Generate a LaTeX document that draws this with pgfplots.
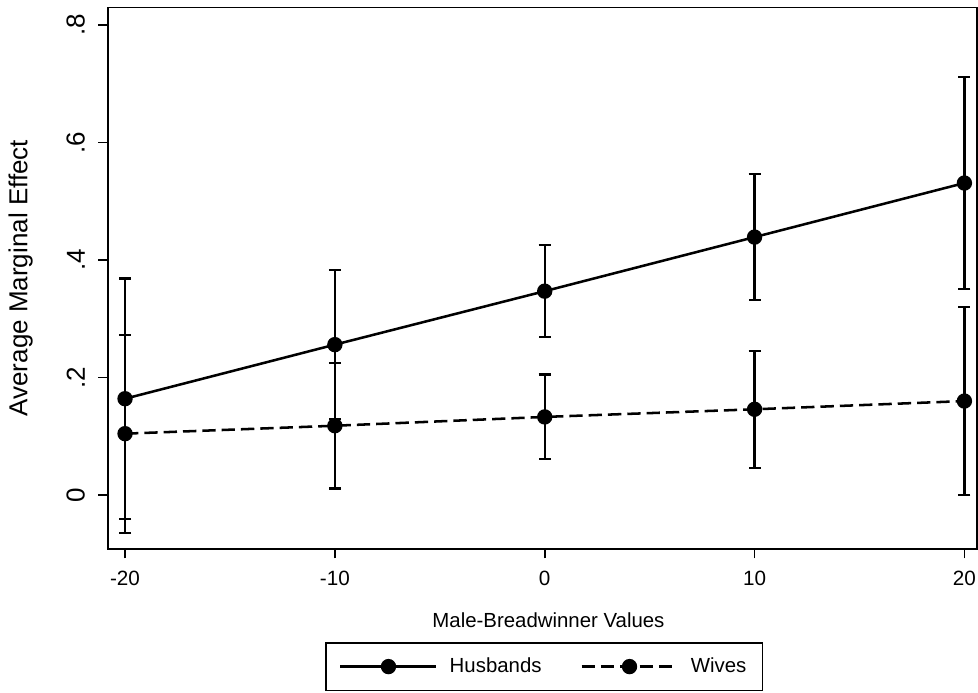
\documentclass[border=0pt]{standalone}
\usepackage{fontspec}
\setmainfont{Liberation Sans}
\usepackage{pgfplots}
\usepackage{pgfplotstable}
\pgfplotsset{compat=1.18}
\pgfplotstableread{
x y e
-20 0.164 0.2045
-10 0.256 0.127
0 0.347 0.078
10 0.439 0.1075
20 0.531 0.1805
}\husbands
\pgfplotstableread{
x y e
-20 0.1045 0.1685
-10 0.118 0.107
0 0.133 0.072
10 0.146 0.0995
20 0.160 0.160
}\wives
\begin{document}
\begin{tikzpicture}
\path[use as bounding box] (-80.8pt,-107.25pt) rectangle (652.75pt,411.8pt);
\begin{axis}[
  at={(0pt,0pt)}, anchor=south west,
  scale only axis, width=652pt, height=406.3pt,
  xmin=-20.825, xmax=20.6, ymin=-0.0918, ymax=0.830,
  axis line style={line width=1.2pt},
  tick style={line width=1.2pt, black},
  tick align=outside, major tick length=7pt,
  xtick pos=left, ytick pos=left,
  xtick={-20,-10,0,10,20}, xticklabels={-20,-10,0,10,20},
  ytick={0,0.2,0.4,0.6,0.8}, yticklabels={0,.2,.4,.6,.8},
  xticklabel shift=9pt, yticklabel shift=10pt,
  xticklabel style={font=\fontsize{15.5}{18}\selectfont, inner sep=0pt, anchor=north},
  yticklabel style={font=\fontsize{19.5}{23}\selectfont, rotate=90, anchor=south, inner sep=0pt},
  xlabel={Male-Breadwinner Values},
  xlabel style={font=\fontsize{15.3}{18}\selectfont, at={(axis description cs:0.507,0)}, anchor=north, inner sep=0pt, yshift=-47.25pt},
  ylabel={Average Marginal Effect},
  ylabel style={font=\fontsize{19.5}{23}\selectfont, at={(axis description cs:-0.0859,0.5)}, anchor=south, inner sep=0pt},
  legend columns=2,
  legend style={at={(axis description cs:0.502,-0.172)}, anchor=north, draw=black, line width=1pt,
    font=\fontsize{15.3}{18}\selectfont, inner xsep=10pt, inner ysep=9.5pt,
    /tikz/every odd column/.append style={column sep=7pt},
    /tikz/every even column/.append style={column sep=27pt}},
  legend image code/.code={\draw[mark repeat=2,mark phase=2,#1] plot coordinates {(0pt,0pt)(36pt,0pt)(72pt,0pt)};},
  clip=false,
]
\addplot[black, line width=1.9pt, mark=*, mark size=4.8pt, mark options={solid},
  error bars/.cd, y dir=both, y explicit,
  error bar style={line width=1.7pt, solid},
  error mark options={line width=1.7pt, mark size=4.5pt, rotate=90, solid}]
  table[x=x, y=y, y error=e] {\husbands};
\addlegendentry{Husbands}
\addplot[black, line width=1.9pt, dash pattern=on 10pt off 4.5pt, mark=*, mark size=4.8pt, mark options={solid},
  error bars/.cd, y dir=both, y explicit,
  error bar style={line width=1.7pt, solid},
  error mark options={line width=1.7pt, mark size=4.5pt, rotate=90, solid}]
  table[x=x, y=y, y error=e] {\wives};
\addlegendentry{Wives}
\end{axis}
\end{tikzpicture}
\end{document}
